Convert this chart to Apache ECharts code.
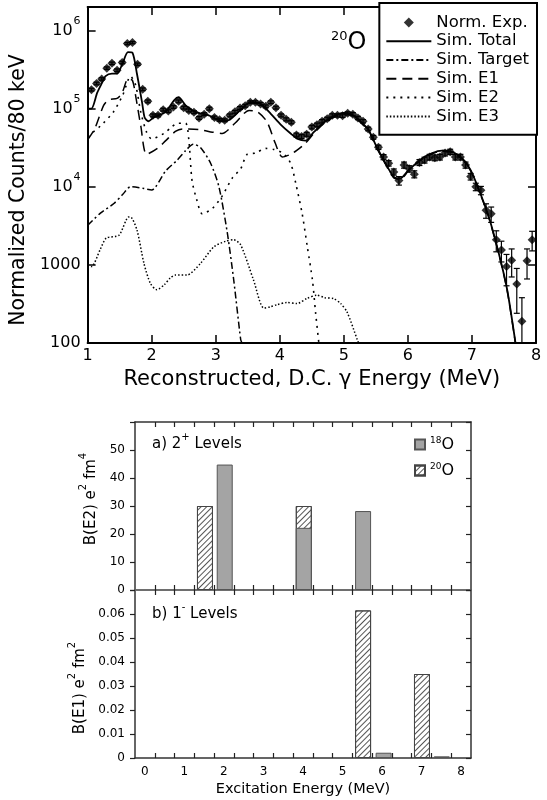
<!DOCTYPE html>
<html><head><meta charset="utf-8">
<script src="https://cdn.jsdelivr.net/npm/echarts@6/dist/echarts.min.js"></script>
<style>html,body{margin:0;padding:0;background:#fff}#c{width:547px;height:800px}</style>
</head><body><div id="c"></div><script>
// ---------- top panel: measured spectrum (80 keV bins) ----------
const expE = [1.06,1.14,1.22,1.30,1.38,1.46,1.54,1.62,1.70,1.78,1.86,1.94,2.02,2.10,2.18,2.26,2.34,2.42,2.50,2.58,2.66,2.74,2.82,2.90,2.98,3.06,3.14,3.22,3.30,3.38,3.46,3.54,3.62,3.70,3.78,3.86,3.94,4.02,4.10,4.18,4.26,4.34,4.42,4.50,4.58,4.66,4.74,4.82,4.90,4.98,5.06,5.14,5.22,5.30,5.38,5.46,5.54,5.62,5.70,5.78,5.86,5.94,6.02,6.10,6.18,6.26,6.34,6.42,6.50,6.58,6.66,6.74,6.82,6.90,6.98,7.06,7.14,7.22,7.30,7.38,7.46,7.54,7.62,7.70,7.78,7.86,7.94];
const expV = [175000,210000,240000,330000,380000,310000,390000,680000,700000,370000,177000,124000,82000,82000,97000,93000,105000,124000,103000,95000,90000,76000,85000,100000,77000,72000,71000,82000,91000,102000,109000,121000,121000,115000,107000,121000,103000,82000,73000,67000,46000,44000,47000,58000,62000,69000,74000,82000,82000,81000,87000,85000,76000,69000,55000,43000,32000,24000,20000,15500,12000,19000,17000,14500,20500,22000,24000,23500,24000,27000,28000,24000,24000,19000,13500,10000,9000,5000,4500,2100,1550,950,1150,570,190,1130,2100];
const expErr = [7000,8000,9000,12000,14000,12000,14000,22000,22000,13000,7000,5000,3500,3500,4000,4000,4200,5000,4200,4000,3800,3300,3600,4200,3300,3100,3000,3500,3800,4200,4500,5000,5000,4800,4500,5000,4300,3500,3200,3000,2600,2600,2700,3000,3200,3400,3600,3900,3900,3900,4100,4000,3700,3400,2900,2400,2000,1800,1600,1400,1500,1700,1600,1500,1800,1900,2000,2000,2000,2200,2200,2000,2000,1700,1300,1100,1100,1050,1000,630,460,410,450,330,190,470,590];

// ---------- simulations ----------
const totalE = [1.00,1.06,1.15,1.22,1.28,1.38,1.46,1.54,1.63,1.70,1.77,1.85,1.89,1.95,2.03,2.22,2.35,2.42,2.53,2.68,2.89,3.00,3.10,3.20,3.39,3.54,3.70,3.86,4.01,4.17,4.28,4.40,4.53,4.69,4.87,5.00,5.10,5.20,5.30,5.39,5.50,5.65,5.78,5.88,6.01,6.22,6.38,6.53,6.69,6.85,6.98,7.11,7.26,7.42,7.55,7.68];
const totalV = [100000,100000,160000,210000,260000,280000,280000,370000,530000,520000,280000,120000,77000,69000,77000,91000,128000,140000,110000,91000,82000,74000,70000,71000,97000,121000,115000,86000,63000,48000,41000,39000,50000,67000,82000,88000,86000,76000,64000,53000,34000,20000,13400,12800,16300,23000,27000,29000,28000,23000,16300,9100,4200,1400,480,100];

const targetE = [1.00,1.20,1.41,1.55,1.67,1.88,2.00,2.22,2.40,2.53,2.65,2.76,2.92,3.05,3.18,3.28,3.39,3.41];
const targetV = [3200,4600,6100,8000,10000,9500,9100,16000,22000,29000,35000,32000,20000,10000,2600,650,110,100];

const e1E = [1.00,1.11,1.25,1.33,1.46,1.54,1.63,1.70,1.76,1.83,1.92,2.09,2.22,2.37,2.48,2.74,2.95,3.10,3.30,3.52,3.65,3.80,3.93,4.04,4.17,4.26,4.40,4.53,4.69,4.87,5.00,5.10,5.20,5.30,5.39,5.50,5.65,5.78,5.88,6.01,6.22,6.38,6.53,6.69,6.85,6.98,7.11,7.26,7.42,7.55,7.68];
const e1V = [40000,55000,110000,130000,135000,160000,240000,230000,130000,60000,26000,31000,39000,51000,55000,54000,50000,48000,65000,95000,91000,68000,36000,24000,26000,29000,36000,48000,65000,80000,86000,84000,74000,62000,52000,33000,19500,13000,12500,16000,22500,26500,28500,27500,22500,16000,8900,4100,1370,470,98];

const e2E = [1.00,1.20,1.40,1.55,1.67,1.75,1.83,1.92,2.00,2.19,2.31,2.40,2.53,2.58,2.63,2.70,2.79,2.95,3.10,3.26,3.39,3.49,3.62,3.78,3.91,4.05,4.17,4.25,4.35,4.43,4.51,4.56,4.61];
const e2V = [44000,60000,90000,150000,260000,200000,90000,50000,41000,48000,58000,65000,65000,40000,12000,7000,4500,5300,7600,13000,17000,26000,27000,31000,30000,27000,20000,11000,4500,1700,640,240,100];

const e3E = [1.00,1.06,1.20,1.29,1.49,1.64,1.67,1.77,1.88,1.98,2.08,2.20,2.29,2.37,2.55,2.76,2.97,3.15,3.28,3.39,3.59,3.75,3.85,3.96,4.11,4.27,4.42,4.58,4.70,4.84,4.95,5.05,5.21,5.23];
const e3V = [1000,950,1600,2200,2400,4100,4100,2800,1040,580,480,560,680,740,740,1040,1700,2000,2100,1800,640,280,290,310,330,320,370,410,380,370,320,250,110,100];

// ---------- bottom panels: B(E2) and B(E1) strengths ----------
const e2Levels20E = [1.52, 4.02];
const e2Levels20V = [30, 30];
const e2Levels18E = [2.02, 4.02, 5.52];
const e2Levels18V = [44.8, 22.2, 28.2];
const e1Levels20E = [5.52, 7.01];
const e1Levels20V = [0.0615, 0.035];
const e1Levels18E = [6.04, 7.51];
const e1Levels18V = [0.0022, 0.0007];

const excLabelValues = [0,1,2,3,4,5,6,7,8];
const excTickValues = [0.25,0.75,1.25,1.75,2.25,2.75,3.25,3.75,4.25,4.75,5.25,5.75,6.25,6.75,7.25,7.75];

const zip = (a, b) => a.map((v, i) => [v, b[i]]);
const FONT = 'DejaVu Sans';
const BLACK = '#000';

const chart = echarts.init(document.getElementById('c'), null, {renderer: 'canvas'});

const hatch = {
  symbol: 'rect', symbolSize: 1, color: '#555',
  dashArrayX: [1, 0], dashArrayY: [1, 3], rotation: -Math.PI / 4
};

function topX(pos, show) {
  return {
    gridIndex: 0, type: 'value', min: 1, max: 8, interval: 1, position: pos,
    axisLine: {show: true, onZero: false, lineStyle: {color: BLACK, width: 2}},
    axisTick: {show: true, inside: true, length: 8, lineStyle: {color: BLACK, width: 1.5}},
    axisLabel: {show: show, fontSize: 16, color: BLACK, margin: 5, fontFamily: FONT},
    splitLine: {show: false}
  };
}
function topY(pos, show) {
  return {
    gridIndex: 0, type: 'log', logBase: 10, min: 100, max: 2000000, position: pos,
    axisLine: {show: true, onZero: false, lineStyle: {color: BLACK, width: 2}},
    axisTick: {show: true, inside: true, length: 8, lineStyle: {color: BLACK, width: 1.5}},
    axisLabel: {
      show: show, color: BLACK, margin: 7, fontFamily: FONT,
      formatter: function (v) {
        const l = Math.log10(v), p = Math.round(l);
        if (Math.abs(l - p) > 1e-6) return '';
        return p >= 4 ? '{b|10}{s|' + p + '}' : '{b|' + Math.round(v) + '}';
      },
      rich: {
        b: {fontSize: 16, lineHeight: 16, padding: [7, 0, 7, 0], fontFamily: FONT, color: BLACK},
        s: {fontSize: 11, lineHeight: 11, padding: [0, 0, 19, 1], fontFamily: FONT, color: BLACK}
      }
    },
    splitLine: {show: false}
  };
}
function lvlX(grid, pos, labels, lineColor) {
  return {
    gridIndex: grid, type: 'value', min: -0.25, max: 8.25, position: pos,
    axisLine: {show: true, onZero: false, lineStyle: {color: lineColor, width: 1.5}},
    axisTick: {show: true, inside: true, length: 5, customValues: excTickValues, lineStyle: {color: '#222', width: 1.2}},
    axisLabel: {show: labels, customValues: excLabelValues, fontSize: 12, color: BLACK, margin: 8, fontFamily: FONT},
    splitLine: {show: false}
  };
}
function lvlY(grid, pos, max, interval, labels, fmt) {
  return {
    gridIndex: grid, type: 'value', min: 0, max: max, interval: interval, position: pos,
    axisLine: {show: true, onZero: false, lineStyle: {color: '#333', width: 1.5}},
    axisTick: {show: true, inside: pos === 'right', length: 5, lineStyle: {color: '#222', width: 1.2}},
    axisLabel: {show: labels, fontSize: 12, color: BLACK, margin: 10, fontFamily: FONT, formatter: fmt},
    splitLine: {show: false}
  };
}

const xAxes = [
  Object.assign(topX('bottom', true), {
    name: 'Reconstructed, D.C. \u03b3 Energy (MeV)', nameLocation: 'middle', nameGap: 26,
    nameTextStyle: {fontSize: 21, color: BLACK, fontFamily: FONT}
  }),
  topX('top', false),
  lvlX(1, 'bottom', false, '#666'),
  lvlX(1, 'top', false, '#333'),
  Object.assign(lvlX(2, 'bottom', true, '#333'), {
    name: 'Excitation Energy (MeV)', nameLocation: 'middle', nameGap: 24,
    nameTextStyle: {fontSize: 14.5, color: BLACK, fontFamily: FONT}
  }),
  lvlX(2, 'top', false, '#666')
];

const fmtE2 = v => (v >= 59.9 ? '' : String(Math.round(v)));
const fmtE1 = v => (v >= 0.0699 ? '' : (v < 1e-9 ? '0' : v.toFixed(2)));

const nameRich = {
  n: {fontSize: 15, lineHeight: 15, padding: [5, 0, 0, 0], fontFamily: FONT, color: BLACK},
  s: {fontSize: 10, lineHeight: 10, padding: [0, 0, 10, 0], fontFamily: FONT, color: BLACK}
};

const yAxes = [
  Object.assign(topY('left', true), {
    name: 'Normalized Counts/80 keV', nameLocation: 'middle', nameGap: 47,
    nameTextStyle: {fontSize: 20.5, color: BLACK, fontFamily: FONT, padding: [0, 30, 0, 0]}
  }),
  topY('right', false),
  Object.assign(lvlY(1, 'left', 60, 10, true, fmtE2), {
    name: '{n|B(E2) e}{s|2}{n| fm}{s|4}', nameLocation: 'middle', nameGap: 33,
    nameTextStyle: {color: BLACK, fontFamily: FONT, padding: [0, 0, 0, 14], rich: nameRich}
  }),
  lvlY(1, 'right', 60, 10, false),
  Object.assign(lvlY(2, 'left', 0.07, 0.01, true, fmtE1), {
    name: '{n|B(E1) e}{s|2}{n| fm}{s|2}', nameLocation: 'middle', nameGap: 42,
    nameTextStyle: {color: BLACK, fontFamily: FONT, padding: [0, 28, 0, 0], rich: nameRich}
  }),
  lvlY(2, 'right', 0.07, 0.01, false)
];

function simLine(name, xs, ys, type, width) {
  return {
    name: name, type: 'line', xAxisIndex: 0, yAxisIndex: 0, data: zip(xs, ys),
    symbol: 'none', showSymbol: false, smooth: 0.25, clip: true,
    lineStyle: {color: BLACK, width: width, type: type}, itemStyle: {color: BLACK}, z: 3
  };
}

const series = [
  simLine('Sim. Total', totalE, totalV, 'solid', 1.8),
  simLine('Sim. Target', targetE, targetV, [7, 3, 2, 3], 1.5),
  simLine('Sim. E1', e1E, e1V, [10, 6], 1.5),
  simLine('Sim. E2', e2E, e2V, [2, 5], 1.6),
  simLine('Sim. E3', e3E, e3V, [1.5, 2], 1.5),
  {
    name: 'errors', type: 'custom', xAxisIndex: 0, yAxisIndex: 0, z: 4,
    data: expE.map((e, i) => [e, expV[i], expErr[i]]),
    renderItem: function (params, api) {
      const x = api.value(0), v = api.value(1), e = api.value(2);
      const lowV = v - e;
      const hi = api.coord([x, v + e]);
      const lo = api.coord([x, Math.max(lowV, 100)]);
      const st = {stroke: BLACK, lineWidth: 1.2};
      const ch = [
        {type: 'line', shape: {x1: hi[0], y1: hi[1], x2: lo[0], y2: lo[1]}, style: st},
        {type: 'line', shape: {x1: hi[0] - 3, y1: hi[1], x2: hi[0] + 3, y2: hi[1]}, style: st}
      ];
      if (lowV > 100) ch.push({type: 'line', shape: {x1: lo[0] - 3, y1: lo[1], x2: lo[0] + 3, y2: lo[1]}, style: st});
      return {type: 'group', children: ch};
    }
  },
  {
    name: 'Norm. Exp.', type: 'scatter', xAxisIndex: 0, yAxisIndex: 0, z: 5,
    data: zip(expE, expV), symbol: 'diamond', symbolSize: 9, symbolKeepAspect: true, itemStyle: {color: BLACK}
  },
  {
    name: '20O', type: 'bar', xAxisIndex: 2, yAxisIndex: 2, barWidth: 16, barGap: '-100%',
    data: zip(e2Levels20E, e2Levels20V),
    itemStyle: {color: '#fff', borderColor: '#444', borderWidth: 1, decal: hatch}
  },
  {
    name: '18O', type: 'bar', xAxisIndex: 2, yAxisIndex: 2, barWidth: 16, barGap: '-100%',
    data: zip(e2Levels18E, e2Levels18V),
    itemStyle: {color: '#a4a4a4', borderColor: '#555', borderWidth: 1}
  },
  {
    name: '20O', type: 'bar', xAxisIndex: 4, yAxisIndex: 4, barWidth: 16, barGap: '-100%',
    data: zip(e1Levels20E, e1Levels20V),
    itemStyle: {color: '#fff', borderColor: '#444', borderWidth: 1, decal: hatch}
  },
  {
    name: '18O', type: 'bar', xAxisIndex: 4, yAxisIndex: 4, barWidth: 16, barGap: '-100%',
    data: zip(e1Levels18E, e1Levels18V),
    itemStyle: {color: '#a4a4a4', borderColor: '#555', borderWidth: 1}
  }
];

const noSym = {itemStyle: {opacity: 0, borderWidth: 0}};

const option = {
  animation: false,
  backgroundColor: '#fff',
  textStyle: {fontFamily: FONT},
  grid: [
    {left: 87, top: 7, width: 449, height: 336},
    {left: 135, top: 422, width: 336, height: 168},
    {left: 135, top: 590, width: 336, height: 168}
  ],
  xAxis: xAxes,
  yAxis: yAxes,
  legend: [
    {
      data: [
        {name: 'Norm. Exp.', icon: 'path://M5,0 L10,5 L5,10 L0,5 Z', itemStyle: {color: BLACK}},
        Object.assign({name: 'Sim. Total'}, noSym),
        Object.assign({name: 'Sim. Target'}, noSym),
        Object.assign({name: 'Sim. E1'}, noSym),
        Object.assign({name: 'Sim. E2'}, noSym),
        Object.assign({name: 'Sim. E3'}, noSym)
      ],
      orient: 'vertical', right: 10, top: 3, itemWidth: 45, itemHeight: 10, itemGap: 0,
      symbolKeepAspect: true,
      backgroundColor: '#fff', borderColor: BLACK, borderWidth: 2, borderRadius: 0,
      padding: [10, 8, 9, 6], selectedMode: false, z: 10,
      textStyle: {fontSize: 16.5, lineHeight: 18.8, color: BLACK, fontFamily: FONT}
    },
    {
      data: [{name: '18O', icon: 'rect'}, {name: '20O', icon: 'rect'}],
      orient: 'vertical', left: 414, top: 436, itemWidth: 10, itemHeight: 10, itemGap: 9,
      selectedMode: false, padding: 0,
      formatter: n => '{s|' + n.slice(0, 2) + '}{o|O}',
      textStyle: {
        color: BLACK, fontFamily: FONT,
        rich: {
          s: {fontSize: 9, lineHeight: 9, padding: [0, 0, 8, 0], fontFamily: FONT, color: BLACK},
          o: {fontSize: 16, lineHeight: 16, padding: [1, 0, 0, 0], fontFamily: FONT, color: BLACK}
        }
      }
    }
  ],
  graphic: [
    {
      type: 'text', left: 331, top: 30, z: 20,
      style: {
        text: '{s|20}{o|O}', fill: BLACK,
        rich: {
          s: {fontSize: 13, lineHeight: 13, padding: [0, 0, 12, 0], fontFamily: FONT, fill: BLACK},
          o: {fontSize: 24, lineHeight: 24, padding: [1, 0, 0, 0], fontFamily: FONT, fill: BLACK}
        }
      }
    },
    {
      type: 'text', left: 152, top: 432, z: 20,
      style: {
        text: '{n|a) 2}{s|+}{n| Levels}', fill: BLACK,
        rich: {
          n: {fontSize: 15, lineHeight: 15, padding: [5, 0, 0, 0], fontFamily: FONT, fill: BLACK},
          s: {fontSize: 10, lineHeight: 10, padding: [0, 0, 10, 0], fontFamily: FONT, fill: BLACK}
        }
      }
    },
    {
      type: 'text', left: 152, top: 602, z: 20,
      style: {
        text: '{n|b) 1}{s|-}{n| Levels}', fill: BLACK,
        rich: {
          n: {fontSize: 15, lineHeight: 15, padding: [5, 0, 0, 0], fontFamily: FONT, fill: BLACK},
          s: {fontSize: 10, lineHeight: 10, padding: [0, 0, 10, 0], fontFamily: FONT, fill: BLACK}
        }
      }
    }
  ],
  series: series
};
chart.setOption(option);
</script></body></html>
